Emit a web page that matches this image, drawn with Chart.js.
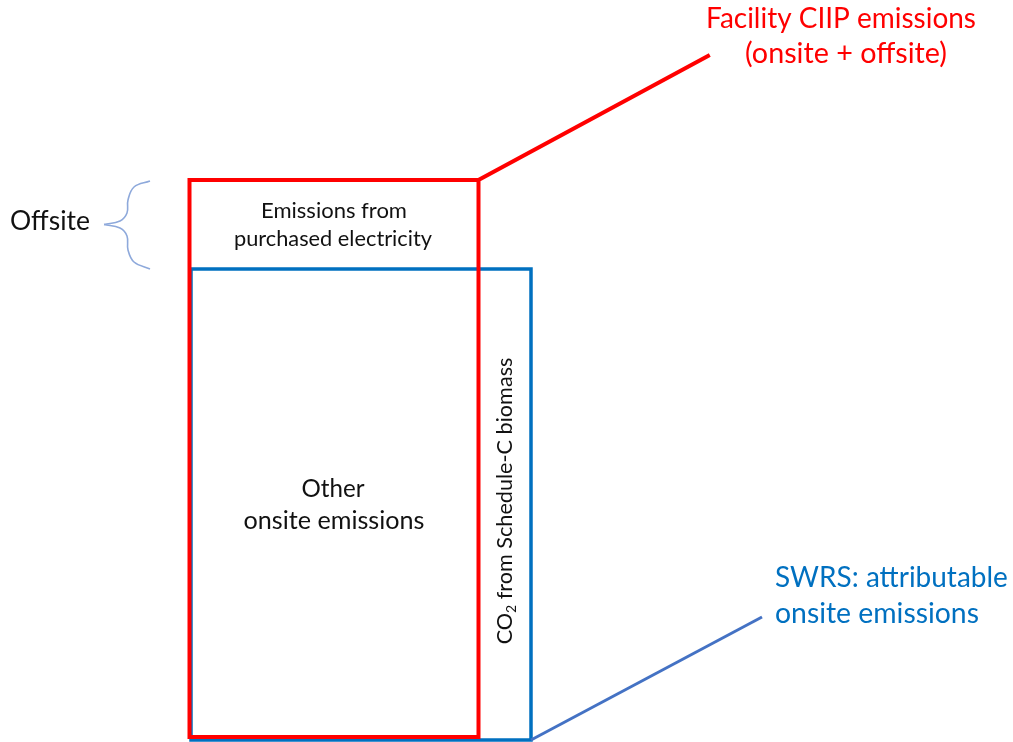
<!DOCTYPE html>
<html lang="en">
<head>
  <meta charset="UTF-8">
  <title>Facility CIIP vs SWRS emissions</title>
  <script src="https://cdn.jsdelivr.net/npm/chart.js"></script>
  <style>
    html, body { margin: 0; padding: 0; background: #fff; overflow: hidden; }
    #wrap { width: 1013px; height: 742px; }
  </style>
</head>
<body>

  <div id="wrap"><canvas id="diagram" width="1013" height="742"></canvas></div>

  <script>
    // The diagram lives in a 1013 x 742 data space, y counted downward
    const ciipOutline = [
      { x: 708, y: 56 }, { x: 478.5, y: 180 }, { x: 478.5, y: 737 },
      { x: 189.5, y: 737 }, { x: 189.5, y: 180 }, { x: 478.5, y: 180 }
    ];
    const swrsOutline = [
      { x: 531, y: 740 }, { x: 191, y: 740 }, { x: 191, y: 269 },
      { x: 531, y: 269 }, { x: 531, y: 740 }
    ];
    const swrsLeader = [ { x: 531, y: 740 }, { x: 762, y: 617 } ];
    const braceUpper = [
      { x: 150, y: 181 }, { x: 134, y: 187 }, { x: 128, y: 200 },
      { x: 127, y: 213 }, { x: 120, y: 221 }, { x: 104, y: 224.5 }
    ];
    const braceLower = [
      { x: 104, y: 224.5 }, { x: 120, y: 228 }, { x: 127, y: 236 },
      { x: 128, y: 250 }, { x: 134, y: 262 }, { x: 150, y: 269 }
    ];

    // text notes: x/y is the anchor, y is the baseline, width is the target text width
    const notes = [
      { text: 'Facility CIIP emissions', x: 841, y: 28, width: 270, color: '#FF0000' },
      { text: '(onsite + offsite)', x: 846, y: 63, width: 202, color: '#FF0000' },
      { text: 'Offsite', x: 10, y: 230, width: 80, color: '#111', align: 'left' },
      { text: 'Emissions from', x: 334, y: 218, width: 146, color: '#111' },
      { text: 'purchased electricity', x: 333, y: 246, width: 198, color: '#111' },
      { text: 'Other', x: 333, y: 497, width: 63, color: '#111' },
      { text: 'onsite emissions', x: 334, y: 529, width: 181, color: '#111' },
      { parts: [{ t: 'CO' }, { t: '2', sub: true }, { t: ' from Schedule-C biomass' }],
        x: 512, y: 501, width: 287, color: '#111', rotate: true },
      { text: 'SWRS: attributable', x: 775, y: 587, width: 233, color: '#0070C0', align: 'left' },
      { text: 'onsite emissions', x: 775, y: 623, width: 204, color: '#0070C0', align: 'left' }
    ];

    const family = 'Lato, "Open Sans", sans-serif';

    function partsWidth(ctx, parts, size) {
      let w = 0;
      parts.forEach(p => {
        ctx.font = `${p.sub ? size * 0.65 : size}px ${family}`;
        w += ctx.measureText(p.t).width;
      });
      return w;
    }

    const notePlugin = {
      id: 'notes',
      afterDatasetsDraw(chart) {
        const ctx = chart.ctx;
        const xs = chart.scales.x, ys = chart.scales.y;
        notes.forEach(n => {
          const parts = n.parts || [{ t: n.text }];
          const size = 100 * n.width / partsWidth(ctx, parts, 100);
          const total = partsWidth(ctx, parts, size);
          ctx.save();
          ctx.translate(xs.getPixelForValue(n.x), ys.getPixelForValue(n.y));
          if (n.rotate) ctx.rotate(-Math.PI / 2);
          ctx.fillStyle = n.color;
          ctx.textAlign = 'left';
          ctx.textBaseline = 'alphabetic';
          let cx = n.align === 'left' ? 0 : -total / 2;
          parts.forEach(p => {
            const s = p.sub ? size * 0.65 : size;
            ctx.font = `${s}px ${family}`;
            ctx.fillText(p.t, cx, p.sub ? size * 0.2 : 0);
            cx += ctx.measureText(p.t).width;
          });
          ctx.restore();
        });
      }
    };

    const lineDefaults = { showLine: true, pointRadius: 0, fill: false, clip: false };

    new Chart(document.getElementById('diagram').getContext('2d'), {
      type: 'scatter',
      data: {
        datasets: [
          { ...lineDefaults, label: 'Facility CIIP', data: ciipOutline, borderColor: '#FF0000',
            borderWidth: 4, borderJoinStyle: 'miter', borderCapStyle: 'square', order: 0 },
          { ...lineDefaults, label: 'SWRS leader', data: swrsLeader, borderColor: '#4472C4',
            borderWidth: 3, order: 1 },
          { ...lineDefaults, label: 'SWRS', data: swrsOutline, borderColor: '#0070C0',
            borderWidth: 3.5, borderJoinStyle: 'miter', borderCapStyle: 'square', order: 2 },
          { ...lineDefaults, label: 'brace', data: braceUpper, borderColor: '#8EA9DB',
            borderWidth: 1.6, tension: 0.4, order: 3 },
          { ...lineDefaults, label: 'brace2', data: braceLower, borderColor: '#8EA9DB',
            borderWidth: 1.6, tension: 0.4, order: 3 }
        ]
      },
      options: {
        responsive: false,
        devicePixelRatio: 1,
        animation: false,
        events: [],
        layout: { padding: 0 },
        plugins: { legend: { display: false }, tooltip: { enabled: false } },
        scales: {
          x: { type: 'linear', min: 0, max: 1013, display: false },
          y: { type: 'linear', min: 0, max: 742, reverse: true, display: false }
        }
      },
      plugins: [notePlugin]
    });
  </script>

</body>
</html>
